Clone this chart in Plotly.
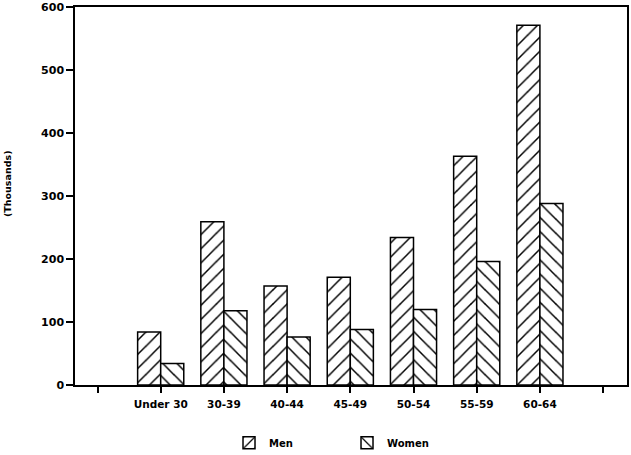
import plotly.graph_objects as go

categories = ["Under 30", "30-39", "40-44", "45-49", "50-54", "55-59", "60-64"]
men = [84, 259, 157, 171, 234, 363, 571]
women = [34, 118, 76, 88, 120, 196, 288]
y_ticks = [0, 100, 200, 300, 400, 500, 600]

x_pos = list(range(1, len(categories) + 1))
tick_pos = list(range(0, len(categories) + 2))
tick_text = [""] + categories + [""]

FONT = "DejaVu Sans"

fig = go.Figure()
fig.add_trace(go.Bar(
    x=x_pos, y=men, name="Men",
    marker=dict(color="white", line=dict(color="black", width=1.5),
                pattern=dict(shape="/", fgcolor="black", bgcolor="white",
                             fgopacity=1, fillmode="replace",
                             size=10, solidity=0.15)),
))
fig.add_trace(go.Bar(
    x=x_pos, y=women, name="Women",
    marker=dict(color="white", line=dict(color="black", width=1.5),
                pattern=dict(shape="\\", fgcolor="black", bgcolor="white",
                             fgopacity=1, fillmode="replace",
                             size=10, solidity=0.15)),
))

fig.update_layout(
    width=631, height=455,
    margin=dict(l=75, r=4, t=7, b=70, autoexpand=False),
    paper_bgcolor="white", plot_bgcolor="white",
    barmode="group", bargap=0.27, bargroupgap=0,
    showlegend=True,
    legend=dict(orientation="h", x=0.279, xanchor="left", y=-0.153, yanchor="middle",
                font=dict(family=FONT, size=10, color="black", weight="bold"),
                entrywidth=73, entrywidthmode="pixels", traceorder="normal"),
    font=dict(family=FONT, color="black"),
)
fig.update_xaxes(
    range=[-0.356, 8.378], tickmode="array", tickvals=tick_pos, ticktext=tick_text,
    showline=True, linecolor="black", linewidth=1.5, mirror=True,
    ticks="outside", ticklen=6, tickwidth=1.5, tickcolor="black",
    showgrid=False, zeroline=False, automargin=False, ticklabelstandoff=3,
    tickfont=dict(family=FONT, size=10.5, color="black", weight="bold"),
)
fig.update_yaxes(
    range=[0, 600], tickmode="array", tickvals=y_ticks,
    showline=True, linecolor="black", linewidth=1.5, mirror=True,
    ticks="outside", ticklen=7, tickwidth=1.5, tickcolor="black",
    showgrid=False, zeroline=False, automargin=False,
    tickfont=dict(family=FONT, size=11, color="black", weight="bold"),
)
fig.add_annotation(
    text="(Thousands)", xref="paper", yref="paper",
    x=(7 - 75) / 552, y=(385 - 184) / 378, textangle=-90,
    xanchor="center", yanchor="middle", showarrow=False,
    font=dict(family=FONT, size=9.5, color="black", weight="bold"),
)

fig.write_html("out.html", config={"displayModeBar": False},
               post_script="document.body.style.margin='0';")
